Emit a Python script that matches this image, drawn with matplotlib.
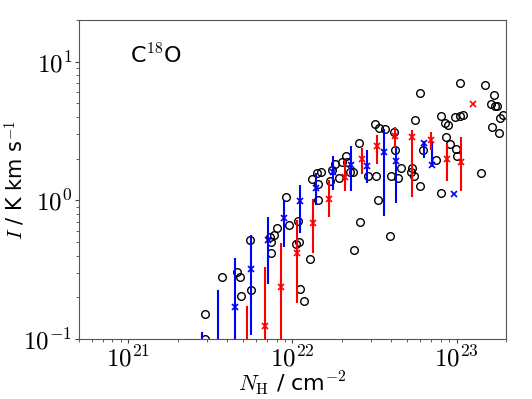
import numpy as np
import matplotlib
matplotlib.use('Agg')
import matplotlib.pyplot as plt
from matplotlib.ticker import FuncFormatter, NullFormatter

plt.rcParams['mathtext.fontset'] = 'cm'
plt.rcParams['font.family'] = ['DejaVu Sans']

# individual positions (black circles)
obs_nh = [2.94e21, 2.94e21, 3.73e21, 4.57e21, 4.80e21, 4.89e21, 5.54e21, 5.59e21,
          7.33e21, 7.44e21, 7.73e21, 7.44e21, 8.0e21, 9.14e21, 9.53e21, 1.05e22,
          1.08e22, 1.09e22, 1.11e22, 1.17e22, 1.28e22, 1.32e22, 1.42e22, 1.44e22,
          1.49e22, 1.44e22, 1.69e22, 1.74e22, 1.82e22, 1.93e22, 2.01e22, 2.12e22,
          2.14e22, 2.23e22, 2.34e22, 2.36e22, 2.55e22, 2.57e22, 2.90e22, 3.19e22,
          3.22e22, 3.34e22, 3.39e22, 3.64e22, 3.91e22, 3.99e22, 4.14e22, 4.21e22,
          4.41e22, 4.56e22, 5.31e22, 5.38e22, 5.47e22, 5.57e22, 5.98e22, 6.01e22,
          6.21e22, 7.45e22, 8.07e22, 8.07e22, 8.47e22, 8.67e22, 8.81e22, 9.10e22,
          9.77e22, 9.91e22, 1.0e23, 1.05e23, 1.05e23, 1.09e23, 1.41e23, 1.50e23,
          1.63e23, 1.65e23, 1.69e23, 1.71e23, 1.77e23, 1.84e23, 1.82e23, 1.92e23]
obs_i = [0.153, 0.101, 0.280, 0.306, 0.282, 0.206, 0.518, 0.227,
         0.547, 0.504, 0.560, 0.415, 0.636, 1.06, 0.664, 0.482,
         0.714, 0.501, 0.231, 0.188, 0.378, 1.42, 1.57, 1.31,
         1.60, 1.01, 1.39, 1.66, 1.84, 1.44, 1.88, 2.09,
         1.88, 1.61, 1.61, 0.439, 2.58, 0.701, 1.50, 3.53,
         1.51, 1.01, 3.31, 3.27, 0.551, 1.51, 3.13, 2.31,
         1.44, 1.70, 1.61, 1.72, 1.51, 3.80, 1.27, 5.95,
         2.31, 1.95, 4.04, 1.14, 3.63, 2.85, 3.50, 2.54,
         3.97, 2.35, 2.10, 4.04, 7.03, 4.13, 1.58, 6.76,
         4.96, 3.40, 5.79, 4.80, 4.80, 3.91, 3.05, 4.13]

# binned values, blue set
blue_nh = [2.82e21, 3.54e21, 4.45e21, 5.60e21, 7.05e21, 8.84e21, 1.11e22, 1.39e22,
           1.77e22, 2.27e22, 2.85e22, 3.62e22, 4.30e22, 6.37e22, 7.11e22, 9.71e22]
blue_i = [0.07, 0.085, 0.171, 0.318, 0.518, 0.741, 0.989, 1.235,
          1.61, 1.79, 1.77, 2.23, 1.91, 2.58, 1.79, 1.12]
blue_lo = [0.04, 0.04, 0.06, 0.107, 0.249, 0.458, 0.578, 0.927,
           1.19, 1.16, 1.33, 0.771, 0.952, 2.03, 1.75, 1.12]
blue_hi = [0.112, 0.226, 0.386, 0.562, 0.762, 1.006, 1.29, 1.57,
           2.10, 2.48, 2.31, 3.25, 2.44, 2.70, 2.62, 1.12]

# binned values, red set
red_nh = [5.31e21, 6.79e21, 8.54e21, 1.065e22, 1.34e22, 1.67e22, 2.09e22, 2.66e22,
          3.29e22, 4.20e22, 5.38e22, 7.01e22, 8.70e22, 1.07e23, 1.26e23]
red_i = [0.075, 0.124, 0.238, 0.415, 0.682, 1.03, 1.47, 1.98,
         2.48, 2.91, 2.85, 2.73, 1.98, 1.90, 4.96]
red_lo = [0.03, 0.05, 0.06, 0.181, 0.420, 0.755, 1.17, 1.55,
          1.82, 2.37, 1.06, 2.31, 1.38, 1.17, 4.96]
red_hi = [0.174, 0.332, 0.495, 0.721, 1.02, 1.40, 1.95, 2.40,
          2.98, 3.40, 3.22, 3.13, 2.55, 2.85, 4.96]

fig = plt.figure(figsize=(5.32, 3.99), dpi=100)
ax = fig.add_axes([0.1485, 0.150, 0.8025, 0.800])

ax.plot(obs_nh, obs_i, 'o', mfc='none', mec='black', ms=5.5, mew=1.0)

for nh, yy, lo, hi, col in [(blue_nh, blue_i, blue_lo, blue_hi, '#0000ff'),
                            (red_nh, red_i, red_lo, red_hi, '#ff0000')]:
    yy = np.array(yy)
    yerr = [yy - np.array(lo), np.array(hi) - yy]
    ax.errorbar(nh, yy, yerr=yerr, fmt='x', color=col, ms=4.5, mew=1.2,
                elinewidth=1.5, capsize=0)

ax.set_xscale('log')
ax.set_yscale('log')
ax.set_xlim(5e20, 2e23)
ax.set_ylim(0.1, 20)

fmt = FuncFormatter(lambda v, p: r'$10^{%d}$' % round(np.log10(v)))
ax.xaxis.set_major_formatter(fmt)
ax.yaxis.set_major_formatter(fmt)
ax.xaxis.set_minor_formatter(NullFormatter())
ax.yaxis.set_minor_formatter(NullFormatter())
ax.tick_params(labelsize=18, length=3, width=0.8, colors='#444444', labelcolor='black', pad=2)
ax.tick_params(which='minor', length=2, width=0.6, colors='#444444')
for s in ax.spines.values():
    s.set_color('#555555')

ax.set_xlabel(r'$N_{\rm H}$ / cm$^{-2}$', fontsize=16)
ax.set_ylabel(r'$I$ / K km s$^{-1}$', fontsize=15)
ax.xaxis.set_label_coords(0.5, -0.095)
ax.yaxis.set_label_coords(-0.12, 0.5)
ax.text(0.119, 0.89, r'C$^{18}$O', transform=ax.transAxes, fontsize=16, va='center')

fig.savefig('out.png', dpi=100)
